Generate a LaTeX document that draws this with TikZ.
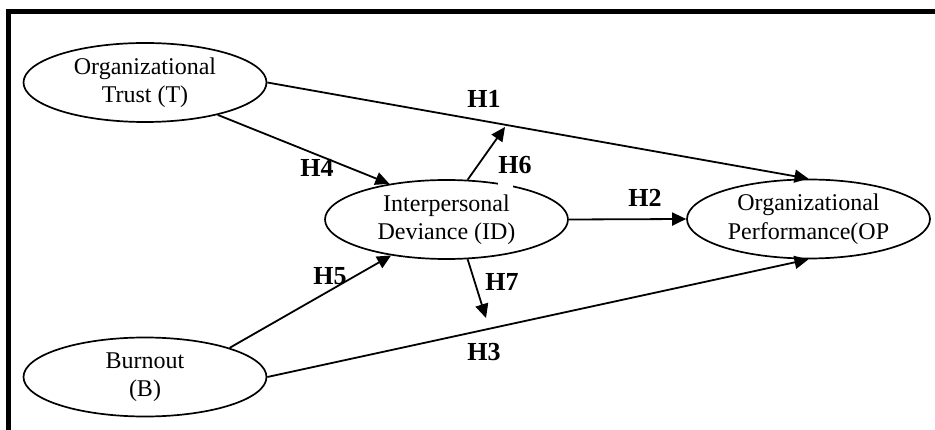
\documentclass[tikz,border=0pt]{standalone}
\usepackage{fontspec}
\setmainfont{Liberation Serif}
\usetikzlibrary{shapes.geometric,arrows.meta}

\begin{document}
\begin{tikzpicture}[x=1pt,y=-1pt,
  construct/.style={ellipse,draw,line width=1.7pt,minimum width=243pt,minimum height=79pt,
    inner sep=0pt,align=center,font=\fontsize{24}{28.5}\selectfont},
  link/.style={line width=1.8pt,-{Triangle[length=14pt,width=13pt]}},
  hyp/.style={font=\fontsize{26}{28}\selectfont\bfseries,inner sep=0pt}]

% canvas
\useasboundingbox (0,0) rectangle (935,430);
\fill[white] (0,0) rectangle (935,430);

% frame: heavy rule along the top and down the left side
\draw[line width=5pt,line join=miter] (935,11.6) -- (8.4,11.6) -- (8.4,430);

% constructs
\node[construct] (T)  at (145,82.5)  {Organizational\\Trust (T)};
\node[construct] (B)  at (145,377)   {Burnout\\(B)};
\node[construct] (ID) at (446.5,219.5) {Interpersonal\\Deviance (ID)};
\node[construct] (OP) at (808.5,219) {Organizational\\Performance(OP};

% small break in the top edge of the ID ellipse
\fill[white] (497.5,179) rectangle (513,189);

% free ends of the moderating arrows
\coordinate (h6end) at (505,127);
\coordinate (h7end) at (486,318);

% hypothesised paths
\draw[link] (T.-0.5) -- (OP.north);
\draw[link] (T.-24)  -- (ID.148.6);
\draw[link] (ID.62)  -- (h6end);
\draw[link] (ID.east) -- (OP.west);
\draw[link] (B.19.9) -- (ID.213.4);
\draw[link] (ID.298) -- (h7end);
\draw[link] (B.east) -- (OP.south);

% hypothesis labels
\node[hyp] (l1) at (484,99)  {H1};
\node[hyp] (l4) at (317,168) {H4};
\node[hyp] (l6) at (515,165) {H6};
\node[hyp] (l2) at (645,198) {H2};
\node[hyp] (l5) at (330,276) {H5};
\node[hyp] (l7) at (502,282) {H7};
\node[hyp] (l3) at (484,352) {H3};
\end{tikzpicture}
\end{document}
